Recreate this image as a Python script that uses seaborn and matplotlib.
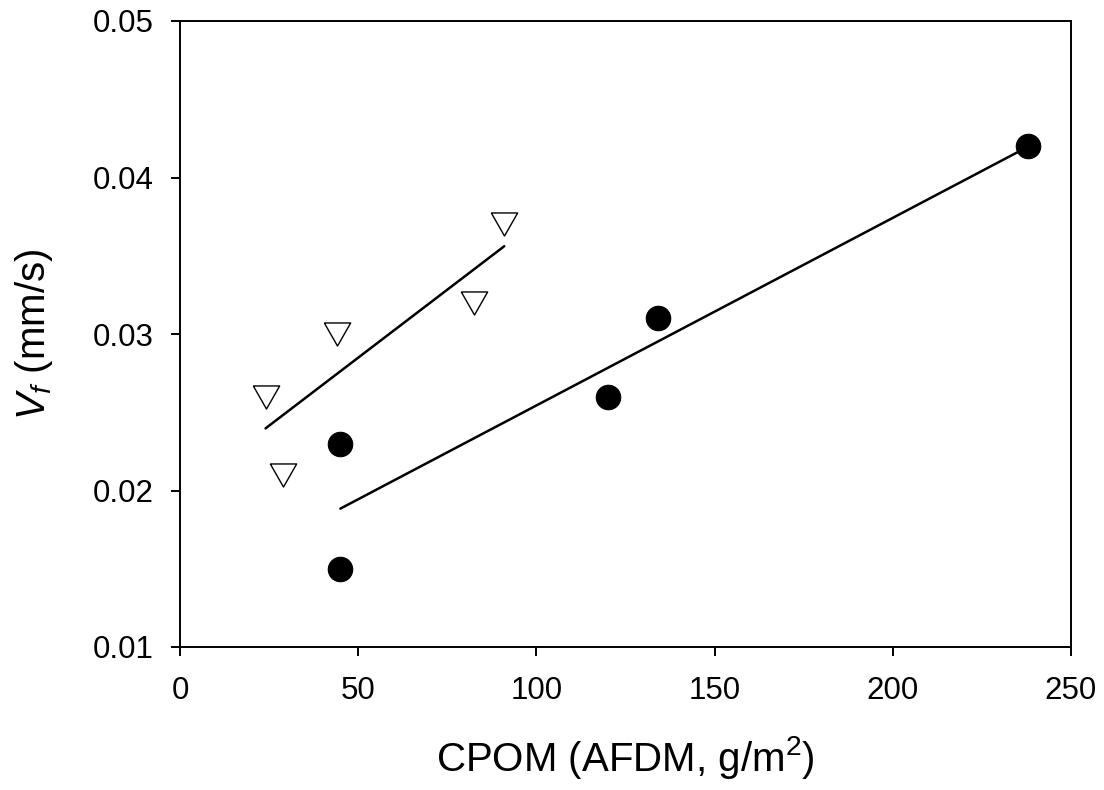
import matplotlib
matplotlib.use("Agg")
import matplotlib.pyplot as plt
import seaborn as sns
import numpy as np

# Data
circle_x = [45, 45, 120, 134, 238]
circle_y = [0.023, 0.015, 0.026, 0.031, 0.042]
tri_x = [24, 29, 44, 82.5, 91]
tri_y = [0.026, 0.021, 0.030, 0.032, 0.037]

xticks = [0, 50, 100, 150, 200, 250]
yticks = [0.01, 0.02, 0.03, 0.04, 0.05]

sns.set_theme(style="ticks")
plt.rcParams['font.family'] = ['Liberation Sans', 'DejaVu Sans']
plt.rcParams['mathtext.fontset'] = 'custom'
plt.rcParams['mathtext.it'] = 'Liberation Sans:italic'
plt.rcParams['mathtext.rm'] = 'Liberation Sans'
plt.rcParams['text.color'] = 'black'
plt.rcParams['axes.labelcolor'] = 'black'
plt.rcParams['xtick.color'] = 'black'
plt.rcParams['ytick.color'] = 'black'

fig = plt.figure(figsize=(11.04, 7.9), dpi=100)
ax = fig.add_axes([180/1104, 1-647/790, (1071-180)/1104, (647-21)/790])

tri_marker = [(-1, 0.875), (1, 0.875), (0, -0.875), (-1, 0.875)]

sns.regplot(x=circle_x, y=circle_y, ax=ax, ci=None, truncate=True,
            marker='o',
            scatter_kws=dict(s=310, color='black', edgecolors='black', linewidths=0.8,
                             alpha=1, zorder=3),
            line_kws=dict(color='black', lw=1.8))
sns.regplot(x=tri_x, y=tri_y, ax=ax, ci=None, truncate=True,
            marker=tri_marker,
            scatter_kws=dict(s=360, facecolors='white', edgecolors='black', linewidths=1.0,
                             alpha=1, zorder=3),
            line_kws=dict(color='black', lw=1.8))

ax.set_xlim(0, 250)
ax.set_ylim(0.01, 0.05)
ax.set_xticks(xticks)
ax.set_yticks(yticks)
ax.set_xticklabels([str(t) for t in xticks])
ax.set_yticklabels([f"{t:.2f}" for t in yticks])
ax.tick_params(direction='out', length=6.2, width=1.4, labelsize=22.5, color='black',
               labelcolor='black')
ax.tick_params(axis='x', pad=15)
ax.tick_params(axis='y', pad=13)
for sp in ax.spines.values():
    sp.set_visible(True)
    sp.set_linewidth(1.4)
    sp.set_color('black')

ax.set_xlabel(r"CPOM (AFDM, g/m$^{2}$)", fontsize=29, labelpad=20)
ax.set_ylabel(r"$V_{f}$ (mm/s)", fontsize=29, labelpad=27)

fig.savefig("out.png", dpi=100)
